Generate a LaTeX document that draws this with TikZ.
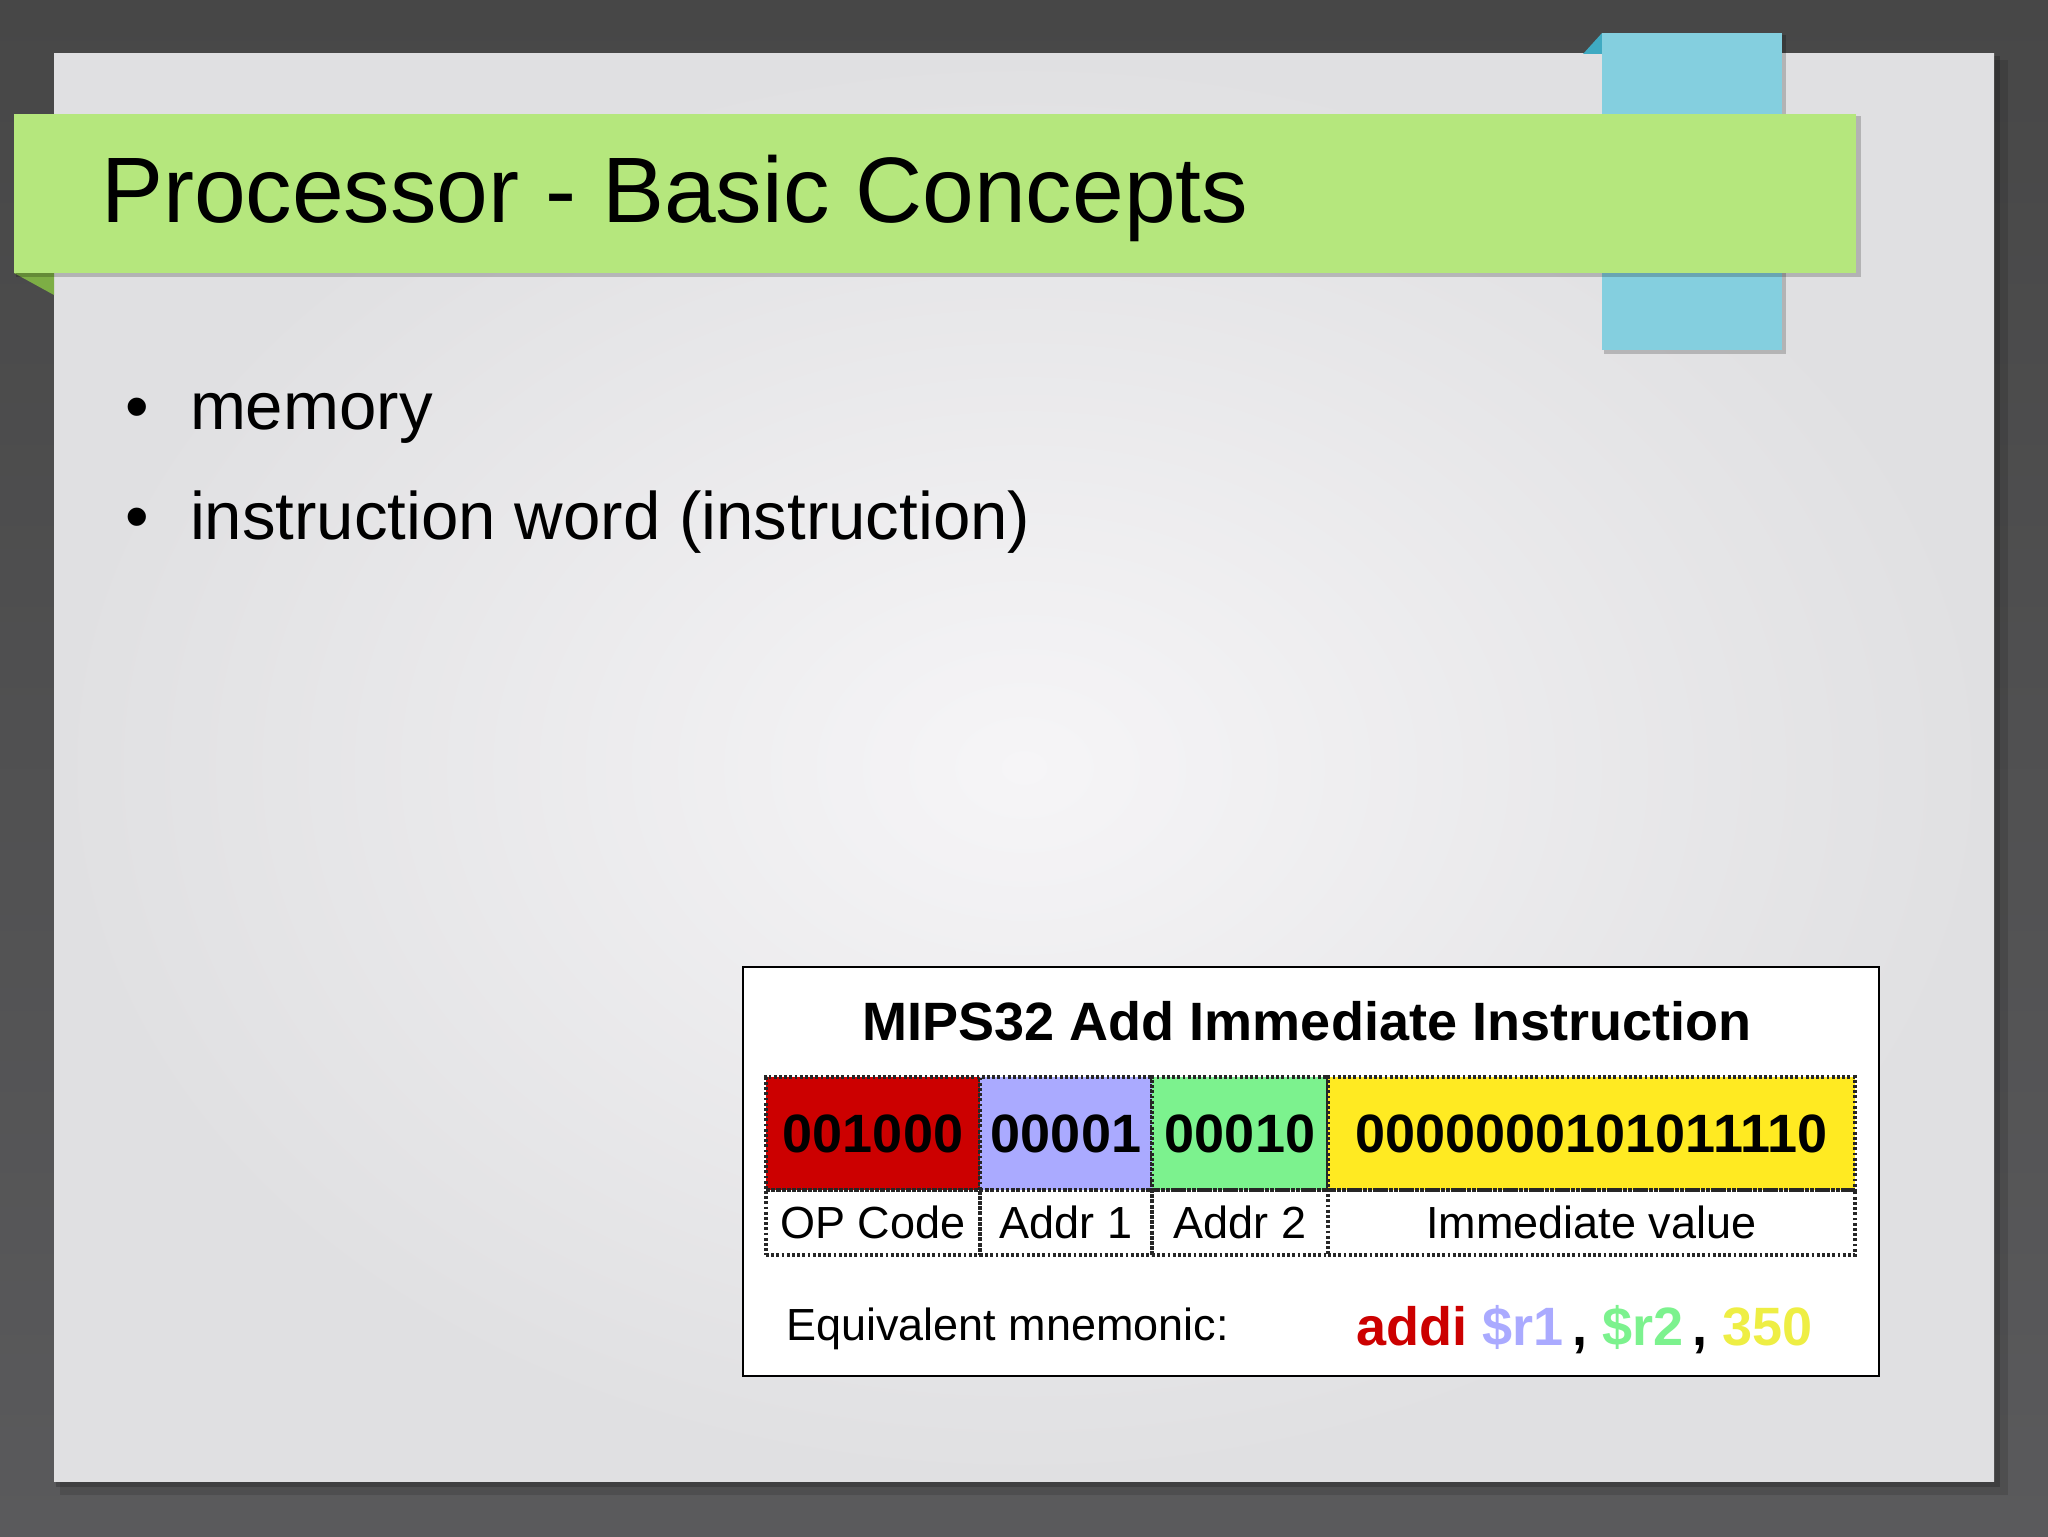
\documentclass[tikz,border=0pt]{standalone}
\usepackage{fontspec}
\setmainfont{Liberation Sans}
\usepackage{tikz}
\usetikzlibrary{
    positioning
}
\definecolor{outerdark}{HTML}{474747}
\definecolor{outerlight}{HTML}{5A5A5C}
\definecolor{slidelight}{HTML}{F6F5F7}
\definecolor{slidedark}{HTML}{E0E0E2}
\definecolor{banner}{HTML}{B5E77D}
\definecolor{bannerfold}{HTML}{7DAE45}
\definecolor{ribbon}{HTML}{84CFDF}
\definecolor{ribbonfold}{HTML}{3FAAC2}
\definecolor{opred}{HTML}{CC0000}
\definecolor{addrblue}{HTML}{AAAAFF}
\definecolor{addrgreen}{HTML}{7CF28E}
\definecolor{immyellow}{HTML}{FFEA22}
\definecolor{immtext}{HTML}{EEEE44}
\newcommand{\fsize}[1]{\fontsize{#1}{#1}\selectfont}

\begin{document}
\begin{tikzpicture}[x=0.5pt, y=-0.5pt,
    txt/.style={inner sep=0pt, outer sep=0pt},
    field/.style={draw=black!85, line width=1.6pt, dash pattern=on 1.4pt off 1.2pt,
        minimum height=56.5pt, inner sep=0pt, outer sep=0pt, font=\fsize{27}\bfseries},
    fieldname/.style={draw=black!85, line width=1.6pt, dash pattern=on 1.4pt off 1.2pt,
        minimum height=32.5pt, inner sep=0pt, outer sep=0pt, font=\fsize{22.5}}]
                            \useasboundingbox (0, 0) rectangle (2048, 1536);
                            \shade[top color=outerdark, bottom color=outerlight] (0, 0) rectangle (2048, 1536);
                            \fill[black, opacity=0.12] (60, 60) rectangle (2008, 1495);
                            \fill[black, opacity=0.18] (56, 56) rectangle (2000, 1487);
                            \shade[inner color=slidelight, outer color=slidedark] (54, 54) rectangle (1994, 1481);
                            \fill[ribbonfold] (1583, 54) -- (1602, 33) -- (1602, 54) -- cycle;
                            \fill[black, opacity=0.2] (1604, 35) rectangle (1786, 354);
                            \fill[ribbon] (1602, 33) rectangle (1782, 350);
                            \fill[bannerfold] (14, 273) -- (54, 273) -- (54, 295) -- cycle;
                            \fill[black, opacity=0.2] (16, 116) rectangle (1861, 277);
                            \fill[banner] (14, 114) rectangle (1856, 273);
                            \node[txt, anchor=base west, font=\fsize{46.5}] (title) at (101, 222) {Processor - Basic Concepts};
                            \node[txt, anchor=base, font=\fsize{33.6}] (dot1) at (137, 429) {•};
                            \node[txt, anchor=base west, font=\fsize{33.6}] (item1) at (190, 429) {memory};
                            \node[txt, anchor=base, font=\fsize{33.6}] (dot2) at (137, 539) {•};
                            \node[txt, anchor=base west, font=\fsize{33.6}] (item2) at (190, 539) {instruction word (instruction)};
                            \node[draw, line width=1pt, fill=white, inner sep=0pt, anchor=north west,
                                minimum width=568pt, minimum height=204.5pt] (mipsbox) at (742, 966) {};
                            \node[txt, anchor=base, font=\fsize{27}\bfseries] (mipstitle) at (1307, 1040) {MIPS32 Add Immediate Instruction};
                            \node[field, fill=opred, anchor=north west, minimum width=107pt] (opc) at (766, 1077) {001000};
                            \node[field, fill=addrblue, minimum width=86pt, right=0pt of opc] (rs) {00001};
                            \node[field, fill=addrgreen, minimum width=88pt, right=0pt of rs] (rt) {00010};
                            \node[field, fill=immyellow, minimum width=263.5pt, right=0pt of rt] (imm) {0000000101011110};
                            \node[fieldname, minimum width=107pt, below=0pt of opc] (opclbl) {OP Code};
                            \node[fieldname, minimum width=86pt, below=0pt of rs] (rslbl) {Addr 1};
                            \node[fieldname, minimum width=88pt, below=0pt of rt] (rtlbl) {Addr 2};
                            \node[fieldname, minimum width=263.5pt, below=0pt of imm] (immlbl) {Immediate value};
                            \node[txt, anchor=base west, font=\fsize{22.5}] (equiv) at (786, 1340) {Equivalent mnemonic:};
                            \node[txt, anchor=base west, font=\fsize{27}\bfseries] (mnem) at (1356, 1345)
                                {\textcolor{opred}{addi} \textcolor{addrblue}{\$r1}\,, \textcolor{addrgreen}{\$r2}\,, \textcolor{immtext}{350}};
                        \end{tikzpicture}
\end{document}
